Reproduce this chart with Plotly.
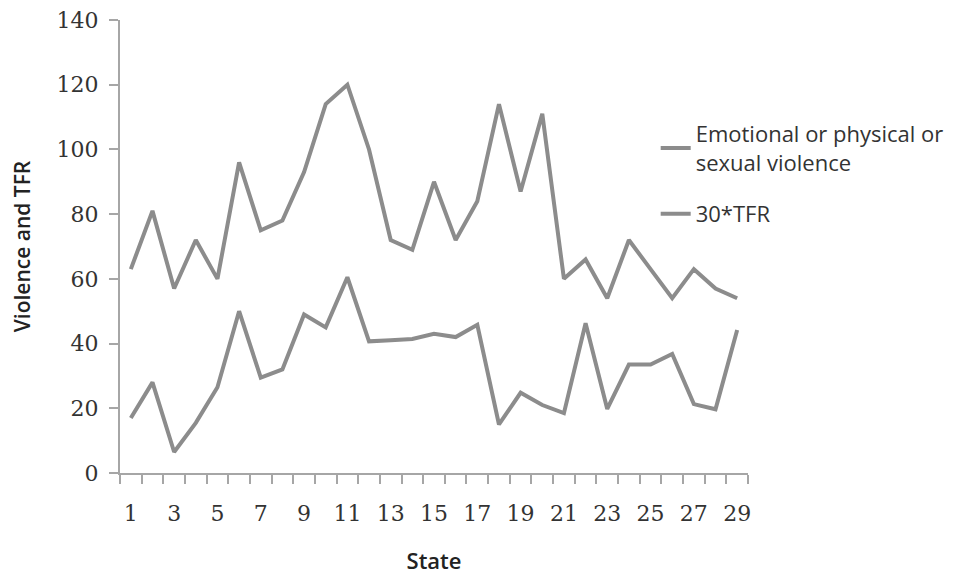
import plotly.graph_objects as go

states = [1, 2, 3, 4, 5, 6, 7, 8, 9, 10, 11, 12, 13, 14, 15, 16, 17, 18, 19, 20,
          21, 22, 23, 24, 25, 26, 27, 28, 29]
violence = [63, 81, 57, 72, 60, 96, 75, 78, 93, 114, 120, 100, 72, 69, 90, 72, 84, 114,
            87, 111, 60, 66, 54, 72, 63, 54, 63, 57, 54]
tfr30 = [17, 28, 6.5, 15.5, 26.5, 50, 29.5, 32, 49, 45, 60.5, 40.7, 41, 41.4, 43, 42, 45.8,
         15, 24.8, 21, 18.5, 46.3, 19.8, 33.5, 33.5, 36.8, 21.3, 19.7, 44.2]
x_tick_labels = ["1", "3", "5", "7", "9", "11", "13", "15", "17", "19", "21", "23", "25", "27", "29"]
x_tick_vals = [1, 3, 5, 7, 9, 11, 13, 15, 17, 19, 21, 23, 25, 27, 29]
y_tick_vals = [0, 20, 40, 60, 80, 100, 120, 140]

line_color = "#8c8c8c"
axis_color = "#a6a6a6"
tick_font = dict(family="DejaVu Serif, Liberation Serif, serif", size=22, color="#333333")
title_font = dict(family="Open Sans, Noto Sans, sans-serif", size=21, color="#222222", weight=600)

fig = go.Figure()
fig.add_trace(go.Scatter(x=states, y=violence, mode="lines",
                         name="Emotional or physical or<br>sexual violence", legendgroup="v",
                         line=dict(color=line_color, width=4)))
fig.add_trace(go.Scatter(x=states, y=tfr30, mode="lines", name="30*TFR", legendgroup="t",
                         line=dict(color=line_color, width=4)))

fig.update_layout(
    width=954, height=567,
    margin=dict(l=112, r=214, t=12, b=102, autoexpand=False),
    paper_bgcolor="white", plot_bgcolor="white",
    showlegend=True,
    legend=dict(x=0.853, y=0.795, xanchor="left", yanchor="top",
                font=dict(family="Open Sans, Noto Sans, sans-serif", size=22, color="#333333"),
                tracegroupgap=20, bgcolor="rgba(0,0,0,0)"),
    xaxis=dict(range=[0.5, 29.5], tickvals=x_tick_vals, ticktext=x_tick_labels,
               ticks="", showline=True, linecolor=axis_color, linewidth=2,
               showgrid=False, zeroline=False, tickfont=tick_font, ticklabelstandoff=20,
               ticklabeloverflow="allow",
               minor=dict(tick0=0.5, dtick=1, ticks="outside", ticklen=9,
                          tickcolor=axis_color, tickwidth=2, showgrid=False),
               title=dict(text="State", standoff=30, font=dict(title_font, size=22))),
    yaxis=dict(range=[0, 140], tickvals=y_tick_vals, ticks="outside", ticklen=9,
               tickcolor=axis_color, tickwidth=2, showline=True, linecolor=axis_color,
               linewidth=2, showgrid=False, zeroline=False, tickfont=tick_font,
               ticklabelstandoff=6, ticklabeloverflow="allow",
               title=dict(text="Violence and TFR", standoff=26, font=title_font)),
)

fig.write_html("out.html")
